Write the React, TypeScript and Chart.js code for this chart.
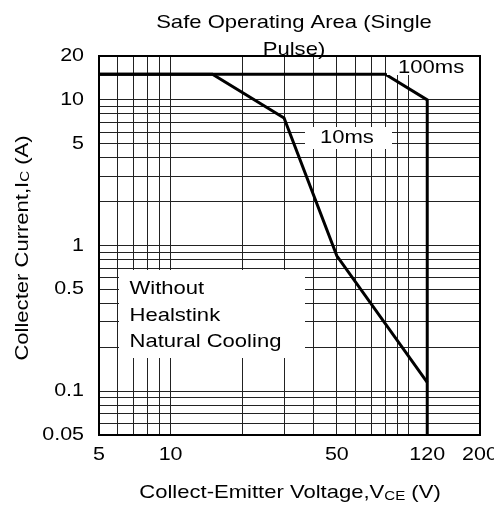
import React, { useEffect, useRef } from 'react';
import { Chart, registerables } from 'chart.js';

Chart.register(...registerables);

// ---- Data ----
const curve100msVoltage = [5, 80, 120, 120];
const curve100msCurrent = [15, 15, 10, 0.05];
const curve10msVoltage = [5, 15, 30, 50, 120];
const curve10msCurrent = [15, 15, 7.5, 0.85, 0.115];

const xGridValues = [6, 7, 8, 9, 10, 20, 30, 40, 50, 60, 70, 80, 90, 100];
const yGridValues = [0.06, 0.07, 0.08, 0.09, 0.1, 0.2, 0.3, 0.4, 0.5, 0.6, 0.7, 0.8, 0.9, 1, 2, 3, 4, 5, 6, 7, 8, 9, 10];
const xTickLabels = [5, 10, 50, 120, 200];
const yTickLabels = [0.05, 0.1, 0.5, 1, 5, 10, 20];

const titleLines = ['Safe Operating Area (Single', 'Pulse)'];
const noteLines = ['Without', 'Healstink', 'Natural Cooling'];
const label100ms = '100ms';
const label10ms = '10ms';

const FONT = '"Liberation Sans", Arial, Helvetica, sans-serif';
const SX = 1.16;

function font(size: number) {
  return `${size}px ${FONT}`;
}

function drawText(ctx: CanvasRenderingContext2D, text: string, x: number, y: number, size: number, align: CanvasTextAlign, baseline: CanvasTextBaseline = 'alphabetic') {
  ctx.save();
  ctx.font = font(size);
  ctx.translate(x, y);
  ctx.scale(SX, 1);
  ctx.textAlign = align;
  ctx.textBaseline = baseline;
  ctx.fillText(text, 0, 0);
  ctx.restore();
}

type Seg = { t: string; size: number; dy?: number };

function drawRich(ctx: CanvasRenderingContext2D, segs: Seg[], cx: number, baseY: number) {
  const widths = segs.map((s) => {
    ctx.font = font(s.size);
    return ctx.measureText(s.t).width * SX;
  });
  const total = widths.reduce((a, b) => a + b, 0);
  let x = cx - total / 2;
  segs.forEach((s, i) => {
    ctx.save();
    ctx.font = font(s.size);
    ctx.translate(x, baseY + (s.dy || 0));
    ctx.scale(SX, 1);
    ctx.textAlign = 'left';
    ctx.textBaseline = 'alphabetic';
    ctx.fillText(s.t, 0, 0);
    ctx.restore();
    x += widths[i];
  });
}

const overlayPlugin = {
  id: 'soaOverlay',
  beforeDatasetsDraw(chart: any) {
    const { ctx, chartArea: a } = chart;
    ctx.save();
    ctx.strokeStyle = '#000';
    ctx.lineWidth = 2;
    ctx.strokeRect(a.left, a.top, a.right - a.left, a.bottom - a.top);
    ctx.restore();
  },
  afterDatasetsDraw(chart: any) {
    const { ctx, chartArea: a, scales } = chart;
    const xs = scales.x;
    const ys = scales.y;
    ctx.save();
    // white label boxes
    ctx.fillStyle = '#fff';
    ctx.fillRect(119, 270, 186, 88);
    ctx.fillRect(305, 127, 87, 22);
    ctx.fillRect(387, a.top + 1, 92, 18);
    ctx.fillStyle = '#000';

    // annotations
    drawText(ctx, label100ms, 398, 72.5, 19, 'left');
    drawText(ctx, label10ms, 320, 143, 19, 'left');
    noteLines.forEach((t, i) => drawText(ctx, t, 129.5, 294 + i * 26.5, 19, 'left'));

    // title
    drawText(ctx, titleLines[0], 294, 27.5, 19, 'center');
    drawText(ctx, titleLines[1], 294, 54.5, 19, 'center');

    // tick labels
    yTickLabels.forEach((v) => {
      drawText(ctx, String(v), 84, ys.getPixelForValue(v), 18.5, 'right', 'middle');
    });
    xTickLabels.forEach((v) => {
      drawText(ctx, String(v), xs.getPixelForValue(v), 460, 18.5, 'center');
    });

    // axis titles
    drawRich(
      ctx,
      [
        { t: 'Collect-Emitter Voltage,V', size: 19 },
        { t: 'CE', size: 13, dy: 2 },
        { t: ' (V)', size: 19 },
      ],
      290,
      498
    );
    ctx.save();
    ctx.translate(27.5, 248);
    ctx.rotate(-Math.PI / 2);
    drawRich(
      ctx,
      [
        { t: 'Collecter Current,I', size: 19 },
        { t: 'C', size: 13, dy: 1.5 },
        { t: ' (A)', size: 19 },
      ],
      0,
      0
    );
    ctx.restore();
    ctx.restore();
  },
};

export default function App() {
  const ref = useRef<HTMLCanvasElement>(null);
  useEffect(() => {
    const toPoints = (xs: number[], ys: number[]) => xs.map((x, i) => ({ x, y: ys[i] }));
    const chart = new Chart(ref.current as HTMLCanvasElement, {
      type: 'line',
      data: {
        datasets: [
          {
            label: label100ms,
            data: toPoints(curve100msVoltage, curve100msCurrent),
            borderColor: '#000',
            borderWidth: 3,
            pointRadius: 0,
            fill: false,
            tension: 0,
          },
          {
            label: label10ms,
            data: toPoints(curve10msVoltage, curve10msCurrent),
            borderColor: '#000',
            borderWidth: 3,
            pointRadius: 0,
            fill: false,
            tension: 0,
          },
        ],
      },
      options: {
        animation: false,
        responsive: true,
        maintainAspectRatio: false,
        events: [],
        layout: { padding: { left: 99, top: 56, right: 14, bottom: 74 } },
        plugins: {
          legend: { display: false },
          tooltip: { enabled: false },
          title: { display: false },
        },
        scales: {
          x: {
            type: 'logarithmic',
            position: 'bottom',
            min: 5,
            max: 200,
            ticks: { display: false },
            grid: { color: '#222', lineWidth: 1, drawTicks: false },
            border: { display: false },
            afterBuildTicks: (s: any) => {
              s.ticks = xGridValues.map((v) => ({ value: v }));
            },
          },
          y: {
            type: 'logarithmic',
            position: 'left',
            min: 0.05,
            max: 20,
            ticks: { display: false },
            grid: { color: '#222', lineWidth: 1, drawTicks: false },
            border: { display: false },
            afterBuildTicks: (s: any) => {
              s.ticks = yGridValues.map((v) => ({ value: v }));
            },
          },
        },
      } as any,
      plugins: [overlayPlugin],
    });
    return () => chart.destroy();
  }, []);
  return (
    <div style={{ position: 'fixed', left: 0, top: 0, width: 494, height: 509, background: '#fff' }}>
      <canvas ref={ref} />
    </div>
  );
}
